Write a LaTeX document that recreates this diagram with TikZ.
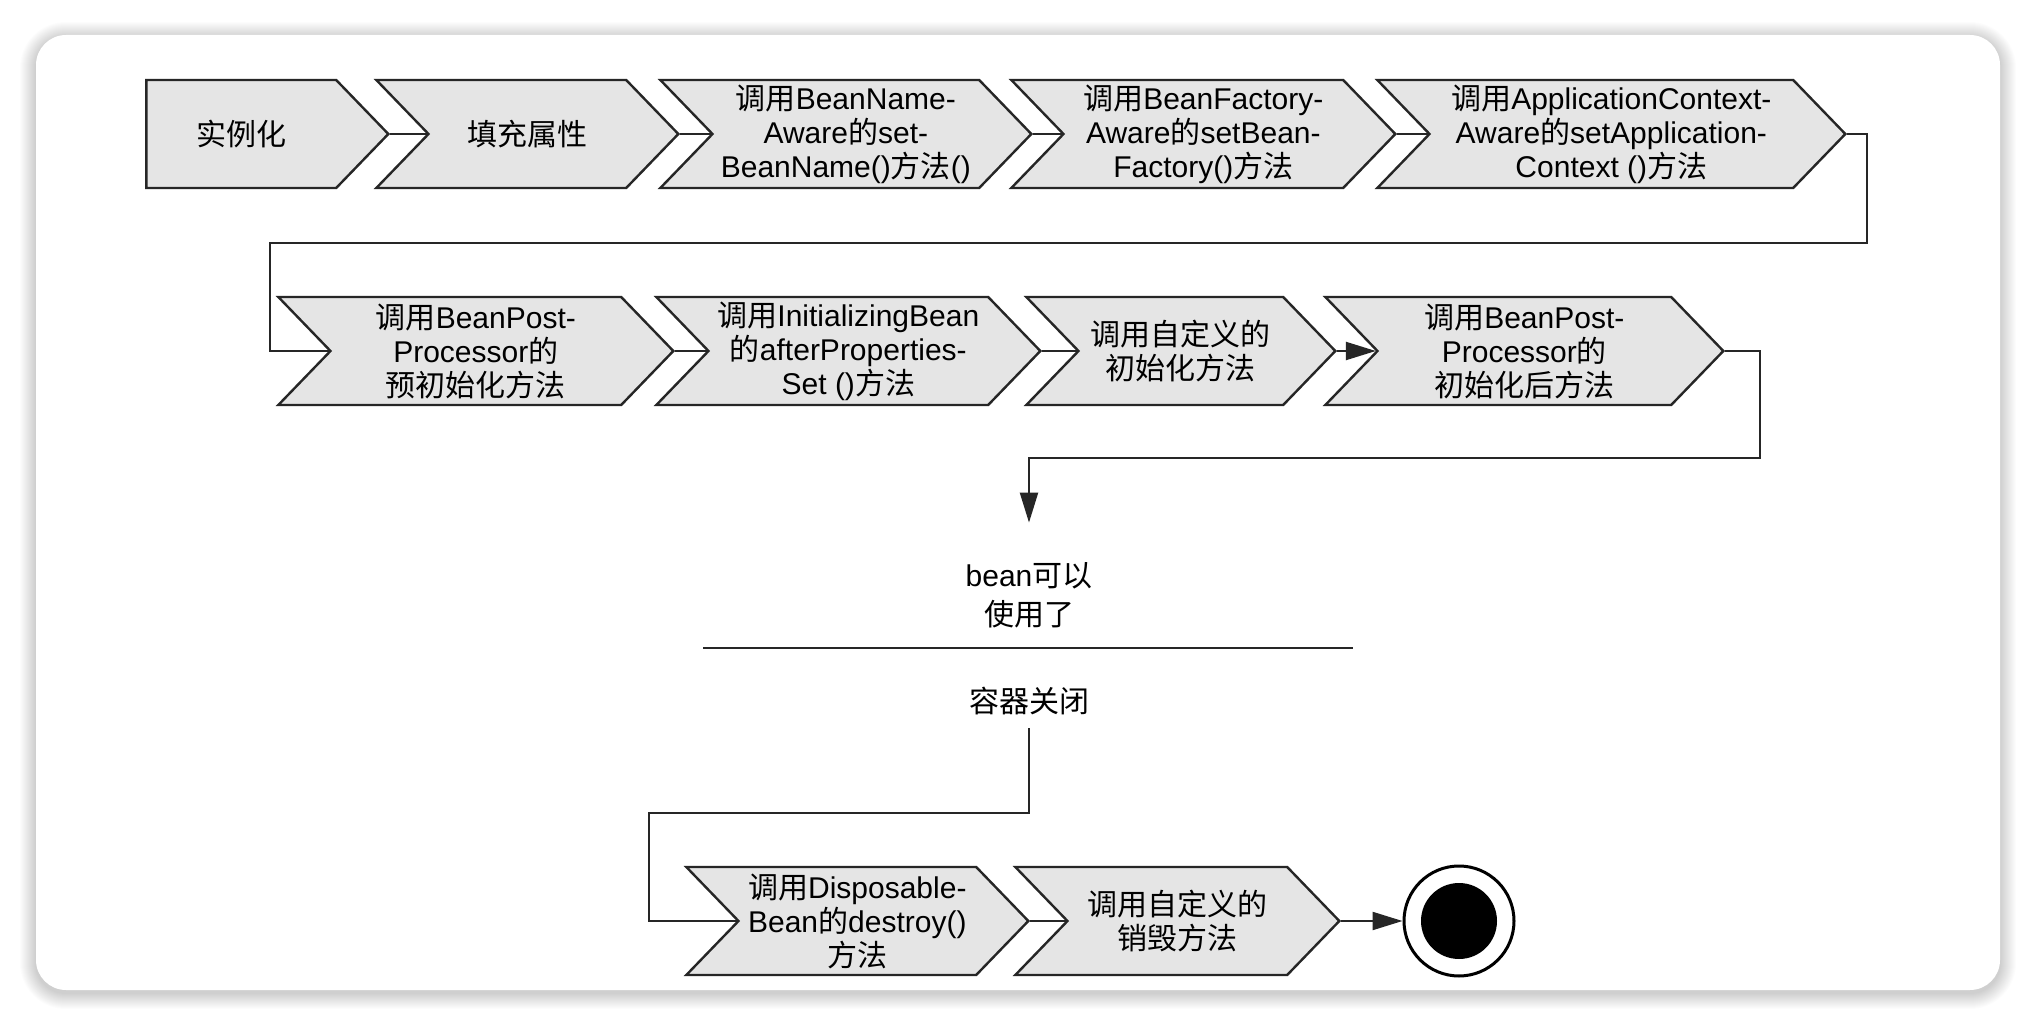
\documentclass[tikz,border=0pt]{standalone}
\usepackage{fontspec}
\setmainfont{Liberation Sans}
\newfontfamily\zhfont{Noto Sans CJK SC}
\newcommand{\zh}[1]{{\zhfont #1}}
\usetikzlibrary{shapes.symbols,arrows.meta}

\tikzset{
  stage/.style={signal, signal to=east, signal from=west,
    signal pointer angle=92, draw=black!85, fill=black!10,
    line width=1.2pt, minimum height=54pt, inner sep=0pt,
    align=center, anchor=east, text=black,
    font=\fontsize{15}{17}\selectfont},
  firststage/.style={stage, signal from=nowhere},
  flow/.style={draw=black!85, line width=1.1pt},
  flowarrow/.style={flow, -{Triangle[length=15pt,width=9pt]}},
  caption/.style={align=center, inner sep=0pt, text=black,
    font=\fontsize{15}{19.5}\selectfont},
  endring/.style={circle, draw=black, line width=1.5pt, fill=white,
    inner sep=0pt, minimum size=55pt},
  enddot/.style={circle, fill=black, inner sep=0pt, minimum size=38pt}
}

\begin{document}
\begin{tikzpicture}[x=0.5pt,y=-0.5pt]
\useasboundingbox (0,0) rectangle (2036,1026);
% card and its shadow
\fill[white] (0,0) rectangle (2036,1026);
\foreach \s in {1,...,16}
  \fill[black, opacity=0.01, rounded corners=15pt+0.5*\s pt]
    (36-\s,35-\s+3) rectangle (2000+\s,990+\s+3);
\fill[white, rounded corners=15pt] (36,35) rectangle (2000,990);

% first row
\node[firststage, minimum width=121pt] (inst) at (390,134) {\zh{实例化}};
\node[stage, minimum width=151pt] (fill) at (680,134) {\zh{填充属性}};
\node[stage, minimum width=185.5pt] (name) at (1033,134)
  {\zh{调用}BeanName-\\Aware\zh{的}set-\\BeanName()\zh{方法}()};
\node[stage, minimum width=192pt] (factory) at (1397,134)
  {\zh{调用}BeanFactory-\\Aware\zh{的}setBean-\\Factory()\zh{方法}};
\node[stage, minimum width=234pt] (context) at (1847,134)
  {\zh{调用}ApplicationContext-\\Aware\zh{的}setApplication-\\Context ()\zh{方法}};

% second row
\node[stage, minimum width=197.5pt] (prebpp) at (675,351)
  {\zh{调用}BeanPost-\\Processor\zh{的}\\\zh{预初始化方法}};
\node[stage, minimum width=192pt] (afterset) at (1042,351)
  {\zh{调用}InitializingBean\\\zh{的}afterProperties-\\Set ()\zh{方法}};
\node[stage, minimum width=154.5pt] (initm) at (1337,351)
  {\zh{调用自定义的}\\\zh{初始化方法}};
\node[stage, minimum width=199pt] (postbpp) at (1725,351)
  {\zh{调用}BeanPost-\\Processor\zh{的}\\\zh{初始化后方法}};

% in use, then shutdown
\node[caption, minimum height=72pt] (ready) at (1029,595)
  {bean\zh{可以}\\\zh{使用了}};
\node[caption, minimum height=27pt] (shutdown) at (1029,701) {\zh{容器关闭}};
\coordinate (barL) at (703,648);
\coordinate (barR) at (1353,648);

% last row
\node[stage, minimum width=171pt] (dispose) at (1030,921)
  {\zh{调用}Disposable-\\Bean\zh{的}destroy()\\\zh{方法}};
\node[stage, minimum width=162pt] (destroym) at (1341,921)
  {\zh{调用自定义的}\\\zh{销毁方法}};
\node[endring] (done) at (1459,921) {};
\node[enddot] at (done) {};

% bends
\coordinate (turnA) at (1867,243);
\coordinate (turnB) at (270,243);
\coordinate (turnC) at (1760,458);
\coordinate (turnD) at (649,813);

\draw[flow] (inst.east) -- (fill.west);
\draw[flow] (fill.east) -- (name.west);
\draw[flow] (name.east) -- (factory.west);
\draw[flow] (factory.east) -- (context.west);
\draw[flow] (context.east) -| (turnA) -- (turnB) |- (prebpp.west);
\draw[flow] (prebpp.east) -- (afterset.west);
\draw[flow] (afterset.east) -- (initm.west);
\draw[flowarrow] (initm.east) -- (postbpp.west);
\draw[flowarrow] (postbpp.east) -| (turnC) -| (ready.north);
\draw[flow] (barL) -- (barR);
\draw[flow] (shutdown.south) |- (turnD) |- (dispose.west);
\draw[flow] (dispose.east) -- (destroym.west);
\draw[flowarrow] (destroym.east) -- (done);
\end{tikzpicture}
\end{document}
